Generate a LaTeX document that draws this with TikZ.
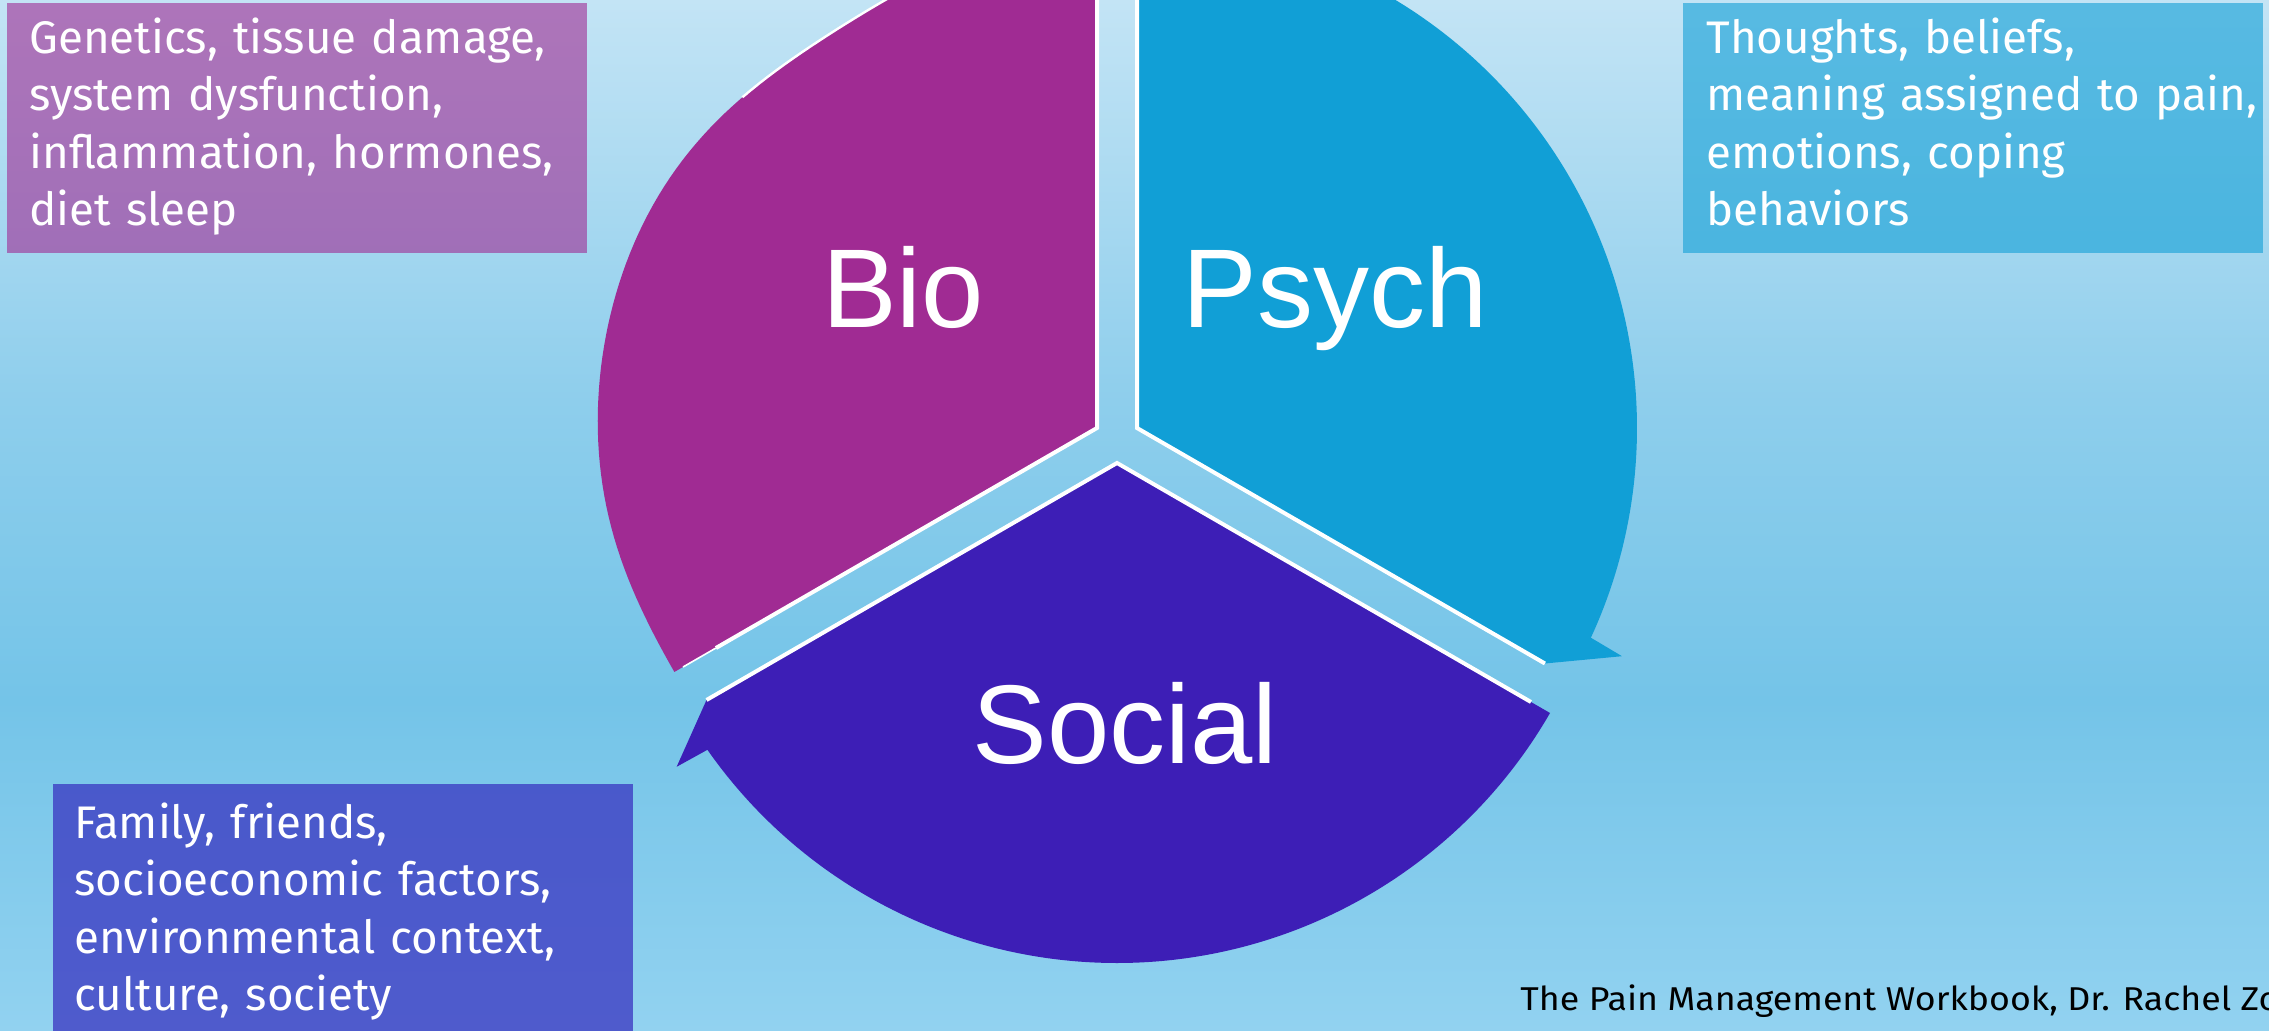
\documentclass[tikz,border=0pt]{standalone}
\usepackage{fontspec}
\usepackage{graphicx}
\setmainfont{Liberation Sans}
\newfontfamily\descfamily{Fira Sans}
\usetikzlibrary{calc}

\definecolor{bioC}{HTML}{A02B93}
\definecolor{psyC}{HTML}{119FD6}
\definecolor{socC}{HTML}{3D1EB6}
\definecolor{socboxC}{HTML}{3934C1}
\definecolor{bgA}{HTML}{C3E4F5}
\definecolor{bgB}{HTML}{8ECEEC}
\definecolor{bgC}{HTML}{74C4E8}
\definecolor{bgD}{HTML}{92D2F0}

\newlength\descw
\newlength\footw

\tikzset{
  declare function={bior(\t)=500-24*exp(-((\t-122)*(\t-122))/484)-12*exp(-((\t-210)*(\t-210))/324);},
  rim/.style={white, line width=2pt},
  biglabel/.style={text=white, font=\fontsize{56pt}{60pt}\selectfont, inner sep=0pt, anchor=base},
  infobox/.style={draw=none, fill opacity=0.6, inner sep=0pt, minimum width=290pt, minimum height=125pt},
  infotext/.style={text=white, font=\descfamily\fontsize{\descsize pt}{28.75pt}\selectfont,
    inner sep=0pt, anchor=north west, align=left, text width=300pt},
}

\begin{document}
% text widths used to size the fonts
\settowidth{\descw}{\descfamily\fontsize{20pt}{24pt}\selectfont Genetics, tissue damage,meaning assigned to pain,}%
\pgfmathsetmacro\descsize{20*526/\descw}%
\settowidth{\footw}{\descfamily\fontsize{16.5pt}{20pt}\selectfont The Pain Management Workbook, Dr. Rachel Z}%
\pgfmathsetmacro\footscale{369.5/\footw}%
\begin{tikzpicture}[x=0.5pt,y=-0.5pt]
\useasboundingbox (0,0) rectangle (2269,1031);
\clip (0,0) rectangle (2269,1031);

% background gradient
\shade[top color=bgA, bottom color=bgB] (0,0) rectangle (2269,401);
\shade[top color=bgB, bottom color=bgC] (0,400) rectangle (2269,701);
\shade[top color=bgC, bottom color=bgD] (0,700) rectangle (2269,1031);

% apex points of the three segments
\coordinate (B) at (1097,428);
\coordinate (P) at (1137,428);
\coordinate (S) at (1117,463);

% Psych segment with its arrow barb
\fill[psyC] (P) -- ($(P)+(-90:500)$) arc[start angle=-90, end angle=24.8, radius=500]
  -- ($(P)+(25.2:536)$) -- ($(P)+(30:471)$) -- cycle;

% Social segment with its arrow barb
\fill[socC] (S) -- ($(S)+(30:500)$) arc[start angle=30, end angle=145, radius=500]
  -- ($(S)+(145.4:535)$) -- ($(S)+(150:474)$) -- cycle;

% Bio segment (outer edge slightly flattened towards the top)
\fill[bioC] (B) -- (1097,-80)
  -- plot[domain=88:210, samples=100, variable=\t]
       ({1097+bior(\t)*cos(\t)}, {428-bior(\t)*sin(\t)})
  -- cycle;

% white rims on the straight edges
\draw[rim] (1097,-10) -- (B) -- ($(B)+(150:440)$);
\draw[white, line width=0.8pt] ($(B)+(150:440)$) -- ($(B)+(150:478)$);
\draw[rim] (1137,-10) -- (P) -- ($(P)+(30:471)$);
\draw[rim] ($(S)+(150:474)$) -- (S) -- ($(S)+(30:478)$);
\draw[white, line width=1.2pt] plot[domain=100:137, samples=30, variable=\t]
       ({1097+bior(\t)*cos(\t)}, {428-bior(\t)*sin(\t)});

% segment labels
\node[biglabel] (bio) at (903,328) {Bio};
\node[biglabel] (psych) at (1335,328) {Psych};
\node[biglabel] (social) at (1125,763) {Social};

% description boxes
\node[infobox, fill=bioC] (biobox) at (297,128) {};
\node[infobox, fill=psyC] (psybox) at (1973,128) {};
\node[infobox, fill=socboxC, fill opacity=0.75, minimum height=128pt] (socbox) at (343,912) {};

\node[infotext] (biotext) at (29,12.75) {\strut Genetics, tissue damage,\\ system dysfunction,\\ inflammation, hormones,\\ diet sleep};
\node[infotext] (psytext) at (1706,12.75) {\strut Thoughts, beliefs,\\ meaning assigned to pain,\\ emotions, coping\\ behaviors};
\node[infotext] (soctext) at (74,797.75) {\strut Family, friends,\\ socioeconomic factors,\\ environmental context,\\ culture, society};

% source line
\node[anchor=base west, inner sep=0pt, text=black] (cite) at (1520,1010)
  {\scalebox{\footscale}[1]{\descfamily\fontsize{16.5pt}{20pt}\selectfont The Pain Management Workbook, Dr. Rachel Zo}};
\end{tikzpicture}
\end{document}
